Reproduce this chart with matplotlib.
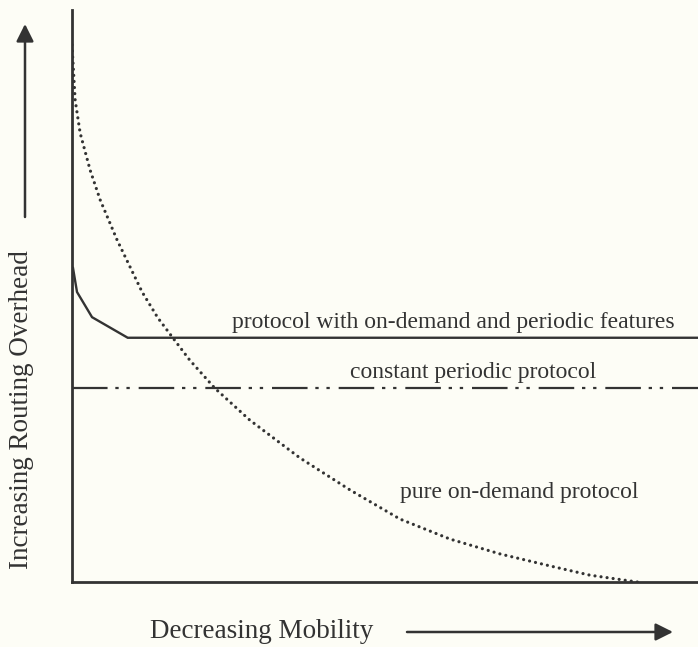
import matplotlib
matplotlib.use("Agg")
import matplotlib.pyplot as plt

# readings, axes run 0..100 both ways
on_demand_x = [0, 0.5, 1.3, 2.9, 4.5, 7.2, 11.2, 13.7, 16.1, 18.8, 22.8, 28.4,
               36.4, 44.4, 52.4, 60.4, 68.4, 76.4, 82.7, 90.3]
on_demand_y = [93.9, 84.3, 78.5, 72.0, 66.8, 59.8, 50.7, 46.2, 42.7, 38.8, 33.9,
               28.3, 21.7, 16.1, 11.0, 7.5, 4.9, 2.8, 1.2, 0]

hybrid_x = [0.16, 0.8, 3.2, 8.9, 100]
hybrid_y = [54.9, 50.7, 46.3, 42.7, 42.7]

periodic_x = [0, 100]
periodic_y = [33.9, 33.9]

labels = ["protocol with on-demand and periodic features",
          "constant periodic protocol",
          "pure on-demand protocol"]
label_pos = [(25.6, 45.3), (44.4, 36.7), (52.4, 15.6)]

xlabel = "Decreasing Mobility"
ylabel = "Increasing Routing Overhead"

ink = "#333333"
bg = "#fdfdf6"
plt.rcParams["font.family"] = ["Liberation Serif", "DejaVu Serif"]

fig = plt.figure(figsize=(6.98, 6.47), dpi=100, facecolor=bg)
ax = fig.add_axes([72 / 698, 65 / 647, 626 / 698, 572 / 647])
ax.set_facecolor(bg)

ax.plot(on_demand_x, on_demand_y, color=ink, lw=2.3,
        linestyle=(0, (0.01, 1.9)), dash_capstyle="round")
ax.plot(hybrid_x, hybrid_y, color=ink, lw=1.7, solid_joinstyle="miter")
ax.plot(periodic_x, periodic_y, color=ink, lw=1.6,
        linestyle=(0, (16, 3.5, 1.5, 3.5, 1.5, 4)))

for txt, (x, y) in zip(labels, label_pos):
    ax.text(x, y, txt, fontsize=17, color=ink, ha="left", va="center")

ax.set_xlim(0, 100)
ax.set_ylim(0, 100)
ax.set_xticks([])
ax.set_yticks([])
for s in ["top", "right"]:
    ax.spines[s].set_visible(False)
for s in ["left", "bottom"]:
    ax.spines[s].set_linewidth(2.0)
    ax.spines[s].set_color(ink)

# axis captions and arrows in figure pixels
fig.text(22 / 698, 237 / 647, ylabel, rotation=90, fontsize=19.5, color=ink,
         ha="center", va="center")
fig.text(262 / 698, 15 / 647, xlabel, fontsize=19.5, color=ink,
         ha="center", va="center")

arrow = dict(arrowstyle="-|>,head_length=0.7,head_width=0.35", lw=1.8,
             color=ink, mutation_scale=15, shrinkA=0, shrinkB=0)
ax.annotate("", xy=(25, 623), xytext=(25, 430), xycoords="figure pixels",
            textcoords="figure pixels", arrowprops=arrow)
ax.annotate("", xy=(673, 15), xytext=(407, 15), xycoords="figure pixels",
            textcoords="figure pixels", arrowprops=arrow)

fig.savefig("out.png", dpi=100, facecolor=bg)
